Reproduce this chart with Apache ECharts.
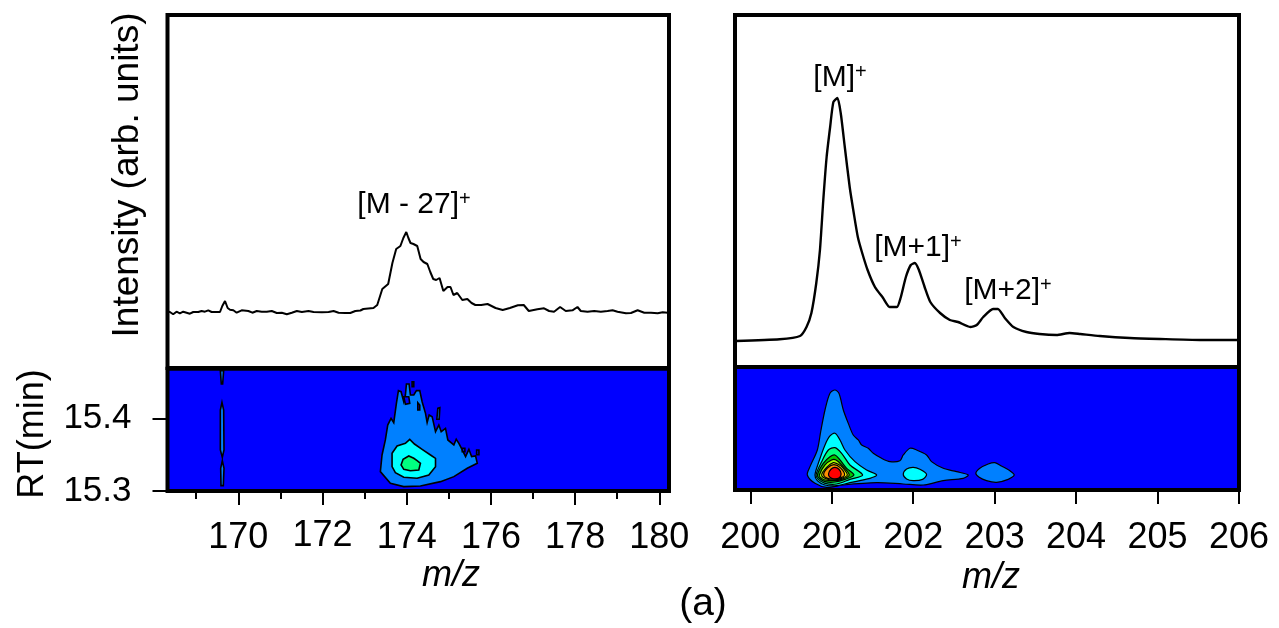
<!DOCTYPE html>
<html><head><meta charset="utf-8">
<style>html,body{margin:0;padding:0;background:#fff}#c{width:1279px;height:628px}</style>
<script src="https://cdn.jsdelivr.net/npm/echarts@6/dist/echarts.min.js"></script>
</head><body><div id="c"></div>
<script>
// ---- tick labels ----
const leftMajorTicks=[170,172,174,176,178,180];
const leftMinorTicks=[169,171,173,175,177,179];
const rightMajorTicks=[200,201,202,203,204,205,206];
const rtTicks=[15.3,15.4];
// ---- spectra [m/z, intensity] ----
const spectrumLeft=[[168.32,56.5],[168.374,56],[168.453,53.7],[168.533,56.3],[168.612,54.7],[168.692,56.3],[168.771,55.3],[168.85,54.3],[168.93,56],[169.049,56],[169.128,57],[169.207,56.3],[169.287,57.7],[169.366,56],[169.565,56],[169.62,62],[169.684,67],[169.747,60],[169.803,58.3],[169.882,57.7],[169.961,55.3],[170.08,57.7],[170.239,57],[170.334,55.3],[170.438,57],[170.557,56.3],[170.676,56.3],[170.795,57],[170.914,55],[171.033,55.3],[171.152,53.7],[171.271,55.3],[171.39,57],[171.509,56],[171.668,57],[171.787,56],[171.985,55.7],[172.144,56],[172.263,57],[172.382,55.3],[172.541,55],[172.66,55],[172.779,57],[172.90,57.5],[172.97,59],[173.21,60],[173.30,63],[173.42,79],[173.56,84],[173.66,105],[173.75,119],[173.85,122],[173.92,130],[173.99,136],[174.04,130],[174.09,125],[174.16,124],[174.25,122],[174.33,109],[174.40,106],[174.49,104],[174.56,96],[174.63,89],[174.70,88],[174.78,90],[174.87,77],[174.97,81],[175.04,81],[175.11,73],[175.20,75],[175.32,68],[175.44,69],[175.54,65],[175.63,63],[175.77,63],[175.92,64],[176.11,60],[176.28,58],[176.45,60],[176.64,62.7],[176.78,63],[176.90,57],[176.945,58.7],[177.104,58.7],[177.262,59.7],[177.382,57],[177.5,56.3],[177.643,61],[177.778,57],[177.937,57.7],[178.056,61],[178.135,57],[178.294,56.3],[178.453,57],[178.611,56.3],[178.77,57],[178.89,57.7],[179.008,56.3],[179.207,54.7],[179.326,55],[179.485,57.7],[179.643,55.3],[179.802,55.3],[179.961,54.7],[180.08,55.7],[180.2,55.3]];
const spectrumRight=[[199.82,26],[200.36,27.7],[200.61,31],[200.69,40],[200.75,54],[200.81,84],[200.855,117],[200.896,167],[200.937,210],[200.98,240],[201.02,265],[201.07,269],[201.11,254],[201.16,220],[201.22,180],[201.27,154],[201.32,130],[201.37,115],[201.44,97],[201.53,80],[201.63,69],[201.71,60],[201.80,60],[201.845,69],[201.91,90],[201.97,102],[202.02,104],[202.07,97],[202.14,80],[202.21,65],[202.33,54],[202.45,47],[202.55,45],[202.70,40],[202.78,42],[202.86,50],[202.98,58],[203.04,58],[203.125,49],[203.23,40],[203.39,35],[203.55,33],[203.76,32],[203.92,34],[204.05,33],[204.29,31],[204.66,29],[205.03,28],[205.52,27],[206,27]];
// ---- contours [m/z, RT] : left panel ----
const leftStreakA=[[169.573,15.4660],[169.652,15.4660],[169.628,15.4476],[169.596,15.4476]];
const leftStreakB=[[169.612,15.4223],[169.652,15.4117],[169.660,15.3566],[169.620,15.3464],[169.573,15.3566],[169.573,15.4117]];
const leftStreakC=[[169.620,15.3418],[169.660,15.3313],[169.644,15.3074],[169.589,15.3074],[169.581,15.3313]];
const leftOuter=[[173.374,15.3267],[173.414,15.3497],[173.493,15.3704],[173.549,15.3910],[173.628,15.4002],[173.692,15.3943],[173.755,15.4209],[173.803,15.4384],[173.866,15.4370],[173.930,15.4232],[173.969,15.4324],[173.993,15.4476],[174.056,15.4476],[174.088,15.4324],[174.168,15.4324],[174.231,15.4384],[174.310,15.4384],[174.366,15.4232],[174.446,15.4071],[174.485,15.3943],[174.533,15.4048],[174.604,15.4025],[174.684,15.3818],[174.763,15.3910],[174.819,15.3818],[174.921,15.3864],[174.977,15.3704],[175.120,15.3635],[175.176,15.3713],[175.239,15.3658],[175.319,15.3566],[175.398,15.3474],[175.477,15.3575],[175.541,15.3474],[175.636,15.3483],[175.676,15.3382],[175.438,15.3313],[175.120,15.3198],[174.803,15.3129],[174.326,15.3069],[173.930,15.3060],[173.612,15.3106]];
const leftCyan=[[173.652,15.3336],[173.652,15.3520],[173.771,15.3621],[173.969,15.3658],[174.072,15.3713],[174.184,15.3648],[174.366,15.3575],[174.565,15.3497],[174.684,15.3451],[174.684,15.3336],[174.525,15.3221],[174.247,15.3175],[173.930,15.3189],[173.731,15.3253]];
const leftGreen=[[173.866,15.3359],[173.914,15.3437],[174.049,15.3483],[174.168,15.3451],[174.247,15.3418],[174.326,15.3382],[174.287,15.3290],[174.088,15.3280],[173.930,15.3299]];
const leftHole1=[[173.930,15.4301],[174.049,15.4301],[174.072,15.4209],[173.969,15.4195]];
const leftHole2=[[174.263,15.4218],[174.310,15.4186],[174.310,15.4117],[174.263,15.4117]];
const leftHole3=[[174.128,15.4508],[174.168,15.4508],[174.168,15.4439],[174.128,15.4439]];
const leftHole4=[[175.319,15.3589],[175.382,15.3589],[175.382,15.3543],[175.319,15.3543]];
const leftHole5=[[175.660,15.3566],[175.715,15.3566],[175.715,15.3501],[175.660,15.3501]];
const leftIsland=[[174.739,15.4140],[174.787,15.4150],[174.771,15.3989],[174.715,15.3989]];
// ---- contours [m/z, RT] : right panel ----
const rightOuter=[[200.700,15.3221],[200.733,15.3336],[200.823,15.3566],[200.864,15.3818],[200.917,15.4117],[200.978,15.4347],[201.039,15.4393],[201.088,15.4347],[201.142,15.4117],[201.203,15.3933],[201.264,15.3772],[201.326,15.3704],[201.367,15.3635],[201.448,15.3589],[201.510,15.3520],[201.612,15.3451],[201.714,15.3405],[201.837,15.3418],[201.878,15.3497],[201.960,15.3589],[202.041,15.3566],[202.164,15.3497],[202.225,15.3405],[202.369,15.3313],[202.532,15.3267],[202.675,15.3221],[202.614,15.3175],[202.369,15.3143],[202.123,15.3083],[201.878,15.3097],[201.551,15.3115],[201.142,15.3083],[200.937,15.3051],[200.794,15.3106]];
const rightCyan=[[200.794,15.3221],[200.835,15.3382],[200.917,15.3635],[200.978,15.3759],[201.039,15.3796],[201.101,15.3704],[201.162,15.3566],[201.285,15.3405],[201.428,15.3290],[201.551,15.3221],[201.469,15.3175],[201.223,15.3115],[201.060,15.3074],[200.917,15.3083],[200.823,15.3143]];
const rightSpring=[[200.806,15.3221],[200.876,15.3405],[200.958,15.3566],[201.039,15.3598],[201.121,15.3520],[201.223,15.3359],[201.379,15.3221],[201.223,15.3161],[201.060,15.3097],[200.917,15.3106],[200.835,15.3161]];
const rightGreen=[[200.823,15.3221],[200.896,15.3382],[200.978,15.3474],[201.039,15.3497],[201.101,15.3428],[201.183,15.3313],[201.272,15.3221],[201.162,15.3161],[201.039,15.3124],[200.917,15.3129],[200.847,15.3175]];
const rightLime=[[200.847,15.3221],[200.917,15.3359],[200.998,15.3428],[201.052,15.3428],[201.121,15.3359],[201.215,15.3221],[201.121,15.3161],[201.027,15.3143],[200.917,15.3152],[200.864,15.3184]];
const rightYellow=[[200.876,15.3221],[200.937,15.3326],[201.019,15.3391],[201.080,15.3368],[201.142,15.3313],[201.191,15.3221],[201.121,15.3175],[201.019,15.3152],[200.929,15.3170]];
const rightOrange=[[200.900,15.3230],[200.950,15.3320],[201.027,15.3365],[201.108,15.3320],[201.158,15.3221],[201.098,15.3178],[201.019,15.3163],[200.940,15.3178]];
const rightRed=[[200.960,15.3235],[200.990,15.3300],[201.039,15.3325],[201.088,15.3300],[201.115,15.3235],[201.088,15.3180],[201.027,15.3168],[200.978,15.3190]];
const rightIsle202=[[201.878,15.3230],[201.919,15.3303],[202.000,15.3326],[202.082,15.3299],[202.164,15.3230],[202.115,15.3161],[202.000,15.3143],[201.919,15.3166]];
const rightIsle203=[[202.769,15.3244],[202.818,15.3313],[202.921,15.3373],[203.003,15.3391],[203.084,15.3345],[203.187,15.3280],[203.240,15.3221],[203.166,15.3161],[203.023,15.3120],[202.900,15.3143],[202.810,15.3189]];

const BLUE='#0000ff',SKY='#0080ff',CYAN='#00ffff',SPRING='#00ff80',GREEN='#00c800',LIME='#a0ff00',YELLOW='#ffff00',ORANGE='#ff9000',RED='#ff0000';
const leftPolys=[[leftStreakA,SKY],[leftStreakB,SKY],[leftStreakC,SKY],[leftOuter,SKY],[leftHole1,BLUE],[leftHole2,BLUE],[leftHole3,BLUE],[leftHole4,BLUE],[leftHole5,BLUE],[leftIsland,SKY],[leftCyan,CYAN],[leftGreen,SPRING]];
const rightPolys=[[rightOuter,SKY],[rightIsle203,SKY],[rightIsle202,CYAN],[rightCyan,CYAN],[rightSpring,SPRING],[rightGreen,GREEN],[rightLime,LIME],[rightYellow,YELLOW],[rightOrange,ORANGE],[rightRed,RED]];

const FONT='"Liberation Sans",Arial,sans-serif';
const L={left:167.5,width:501.5}, R={left:735,width:504};
const xL={min:168.318,max:180.23}, xR={min:199.812,max:206};
const liftedLabels=[172];

function contour(polys,xi,yi,smooth,lw){
  return {type:'custom',coordinateSystem:'cartesian2d',xAxisIndex:xi,yAxisIndex:yi,clip:true,silent:true,
    data:polys.map((p,i)=>[p[0][0][0],p[0][0][1],i]),encode:{x:0,y:1},
    renderItem:(params,api)=>{
      const p=polys[api.value(2)];
      return {type:'polygon',shape:{points:p[0].map(q=>api.coord(q)),smooth:smooth},
        style:{fill:p[1],stroke:'#000',lineWidth:lw}};
    }};
}
function hiddenX(r,g){return {type:'value',gridIndex:g,min:r.min,max:r.max,show:false};}
function hiddenY(g,max){return {type:'value',gridIndex:g,min:0,max:max,show:false};}
function tickX(r,g,ticks,len,labels,margin){
  const base={fontFamily:FONT,fontSize:36,color:'#000'};
  return {type:'value',gridIndex:g,min:r.min,max:r.max,position:'bottom',
    axisLine:{show:false},splitLine:{show:false},
    axisTick:{show:true,length:len,customValues:ticks,lineStyle:{color:'#000',width:2}},
    axisLabel:{show:labels,customValues:ticks,margin:margin,showMinLabel:true,showMaxLabel:true,
      formatter:v=>(liftedLabels.includes(v)?'{u|':'{n|')+v+'}',
      rich:{n:Object.assign({lineHeight:40},base),u:Object.assign({lineHeight:35.5},base)}}};
}
const txt=(x,y,text,size,extra)=>({type:'text',x:x,y:y,rotation:(extra&&extra.rot)||0,
  style:{text:text,fontFamily:FONT,fontSize:size,fill:'#000',align:'center',verticalAlign:'middle',fontStyle:(extra&&extra.italic)?'italic':'normal'}});
const peak=(x,y,t)=>({type:'text',x:x,y:y,style:{text:'{b|'+t+'}{s|+}',fill:'#000',align:'center',verticalAlign:'middle',
  rich:{b:{fontFamily:FONT,fontSize:30,fill:'#000',lineHeight:32},s:{fontFamily:FONT,fontSize:20,fill:'#000',verticalAlign:'top',lineHeight:24}}}});

const chart=echarts.init(document.getElementById('c'),null,{renderer:'canvas'});
chart.setOption({
  animation:false,backgroundColor:'#fff',
  grid:[
    {left:L.left,width:L.width,top:15,height:353,show:true,borderColor:'#000',borderWidth:4,backgroundColor:'#fff'},
    {left:L.left,width:L.width,top:368.7,height:122.3,show:true,borderColor:'#000',borderWidth:4,backgroundColor:BLUE},
    {left:R.left,width:R.width,top:15,height:352,show:true,borderColor:'#000',borderWidth:4,backgroundColor:'#fff'},
    {left:R.left,width:R.width,top:367,height:123,show:true,borderColor:'#000',borderWidth:4,backgroundColor:BLUE}
  ],
  xAxis:[hiddenX(xL,0),tickX(xL,1,leftMajorTicks,14,true,27),tickX(xL,1,leftMinorTicks,8,false,25),hiddenX(xR,2),tickX(xR,3,rightMajorTicks,14,true,28)],
  yAxis:[hiddenY(0,353),
    {type:'value',gridIndex:1,min:15.3,max:15.4687,position:'left',axisLine:{show:false},splitLine:{show:false},
     axisTick:{show:true,length:15,customValues:rtTicks,lineStyle:{color:'#000',width:2}},
     axisLabel:{customValues:rtTicks,fontFamily:FONT,fontSize:35,color:'#000',margin:36,formatter:v=>v.toFixed(1),showMinLabel:true}},
    hiddenY(2,352),
    {type:'value',gridIndex:3,min:15.3014,max:15.471,show:false}],
  series:[
    {type:'line',xAxisIndex:0,yAxisIndex:0,data:spectrumLeft,showSymbol:false,lineStyle:{color:'#000',width:2},silent:true},
    {type:'line',xAxisIndex:3,yAxisIndex:2,data:spectrumRight,showSymbol:false,smooth:0.2,lineStyle:{color:'#000',width:2.4},silent:true},
    contour(leftPolys,1,1,0,1.6),
    contour(rightPolys,4,3,0.3,1.2)
  ],
  graphic:[
    txt(128,175,'Intensity (arb. units)',37,{rot:Math.PI/2}),
    txt(33,434,'RT(min)',36,{rot:Math.PI/2}),
    txt(451,576,'m/z',36,{italic:true}),
    txt(991,578,'m/z',36,{italic:true}),
    txt(703,604,'(a)',39),
    peak(414,205,'[M - 27]'),
    peak(840,78,'[M]'),
    peak(918,248,'[M+1]'),
    peak(1008,291,'[M+2]')
  ]
});
</script></body></html>
